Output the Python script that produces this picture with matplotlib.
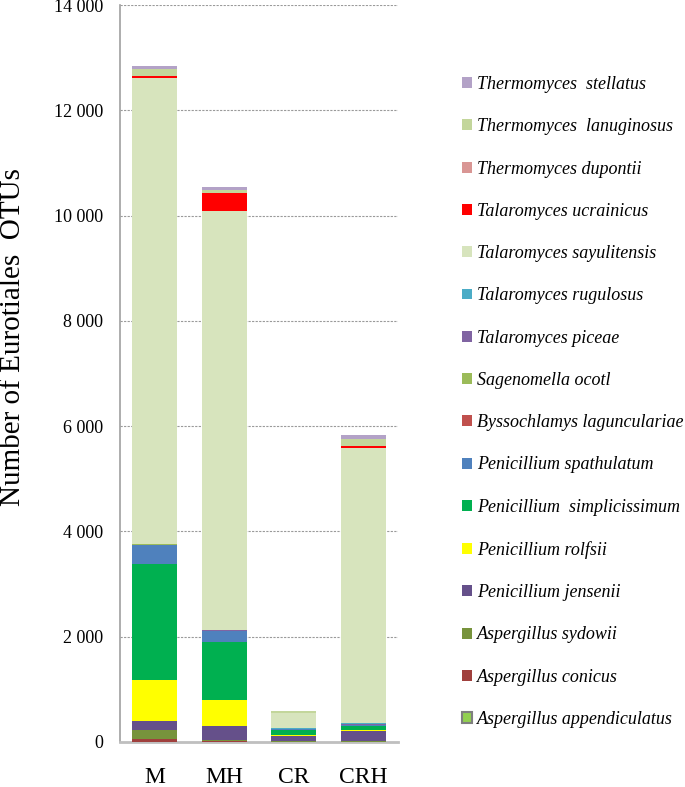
import matplotlib
matplotlib.use("Agg")
import matplotlib.pyplot as plt
import numpy as np
from matplotlib.patches import Patch
from matplotlib.ticker import FuncFormatter

plt.rcParams['font.family'] = ['Liberation Serif', 'DejaVu Serif']

categories = ["M", "MH", "CR", "CRH"]

# stacking order: bottom -> top
species = [
    "Aspergillus appendiculatus",
    "Aspergillus conicus",
    "Aspergillus sydowii",
    "Penicillium jensenii",
    "Penicillium rolfsii",
    "Penicillium  simplicissimum",
    "Penicillium spathulatum",
    "Byssochlamys laguncularIae".replace("I", "i"),
    "Sagenomella ocotl",
    "Talaromyces piceae",
    "Talaromyces rugulosus",
    "Talaromyces sayulitensis",
    "Talaromyces ucrainicus",
    "Thermomyces dupontii",
    "Thermomyces  lanuginosus",
    "Thermomyces  stellatus",
]

aspergillus_appendiculatus = [5, 5, 0, 0]
aspergillus_conicus = [55, 5, 5, 5]
aspergillus_sydowii = [160, 25, 10, 20]
penicillium_jensenii = [170, 265, 100, 190]
penicillium_rolfsii = [790, 500, 25, 5]
penicillium_simplicissimum = [2210, 1095, 90, 80]
penicillium_spathulatum = [350, 210, 20, 15]
byssochlamys_laguncularia = [10, 5, 0, 5]
sagenomella_ocotl = [5, 5, 0, 5]
talaromyces_piceae = [10, 5, 5, 20]
talaromyces_rugulosus = [5, 5, 5, 25]
talaromyces_sayulitensis = [8835, 7955, 285, 5216]
talaromyces_ucrainicus = [45, 342, 0, 40]
thermomyces_dupontii = [5, 5, 0, 5]
thermomyces_lanuginosus = [125, 50, 40, 130]
thermomyces_stellatus = [65, 70, 0, 70]

values = [
    aspergillus_appendiculatus, aspergillus_conicus, aspergillus_sydowii,
    penicillium_jensenii, penicillium_rolfsii, penicillium_simplicissimum,
    penicillium_spathulatum, byssochlamys_laguncularia, sagenomella_ocotl,
    talaromyces_piceae, talaromyces_rugulosus, talaromyces_sayulitensis,
    talaromyces_ucrainicus, thermomyces_dupontii, thermomyces_lanuginosus,
    thermomyces_stellatus,
]

colors = [
    "#92d050", "#a0403d", "#77933c", "#65508a", "#ffff00", "#00b050",
    "#4f81bd", "#c0504d", "#9bbb59", "#8064a2", "#4bacc6", "#d7e4bd",
    "#ff0000", "#d99694", "#c3d69b", "#b3a2c7",
]

fig = plt.figure(figsize=(6.85, 7.87), dpi=100)
ax = fig.add_axes([120/685, 1-742/787, 278/685, 737/787])

x = np.arange(len(categories))
bottom = np.zeros(len(categories))
for name, vals, c in zip(species, values, colors):
    ax.bar(x, vals, 0.65, bottom=bottom, color=c, edgecolor='none', zorder=3)
    bottom += np.array(vals)

ax.set_xlim(-0.5, 3.5)
ax.set_ylim(0, 14000)
ax.set_yticks(np.arange(0, 14001, 2000))
ax.yaxis.set_major_formatter(FuncFormatter(lambda v, p: f"{int(v):,}".replace(",", " ")))
ax.set_xticks(x)
ax.set_xticklabels(categories, fontsize=17)
ax.tick_params(axis='x', length=0, pad=18)
ax.tick_params(axis='y', length=0, pad=12, labelsize=13)

for y in range(2000, 14001, 2000):
    ax.axhline(y, color="#9a9a9a", lw=0.8, ls=(0, (2, 1.2)), zorder=1)

for s in ['top', 'right']:
    ax.spines[s].set_visible(False)
ax.spines['left'].set_color('#a0a0a0')
ax.spines['left'].set_linewidth(1.2)
ax.spines['bottom'].set_color('#bfbfbf')
ax.spines['bottom'].set_linewidth(2)

fig.text(13/685, 1-337/787, "Number of Eurotiales  OTUs", rotation=90,
         ha='center', va='center', fontsize=21)

handles = []
for name, c in zip(species, colors):
    if name == "Aspergillus appendiculatus":
        handles.append(Patch(facecolor=c, edgecolor='#7f7f7f', linewidth=1.5, label=name))
    else:
        handles.append(Patch(facecolor=c, edgecolor='none', label=name))
handles = handles[::-1]
fig.legend(handles=handles, loc='upper left', bbox_to_anchor=(462/685, 1-76/787),
           frameon=False, prop={'style': 'italic', 'size': 13},
           handlelength=0.55, handleheight=0.55, handletextpad=0.3,
           labelspacing=1.40, borderpad=0, borderaxespad=0)

fig.savefig("out.png", dpi=100)
